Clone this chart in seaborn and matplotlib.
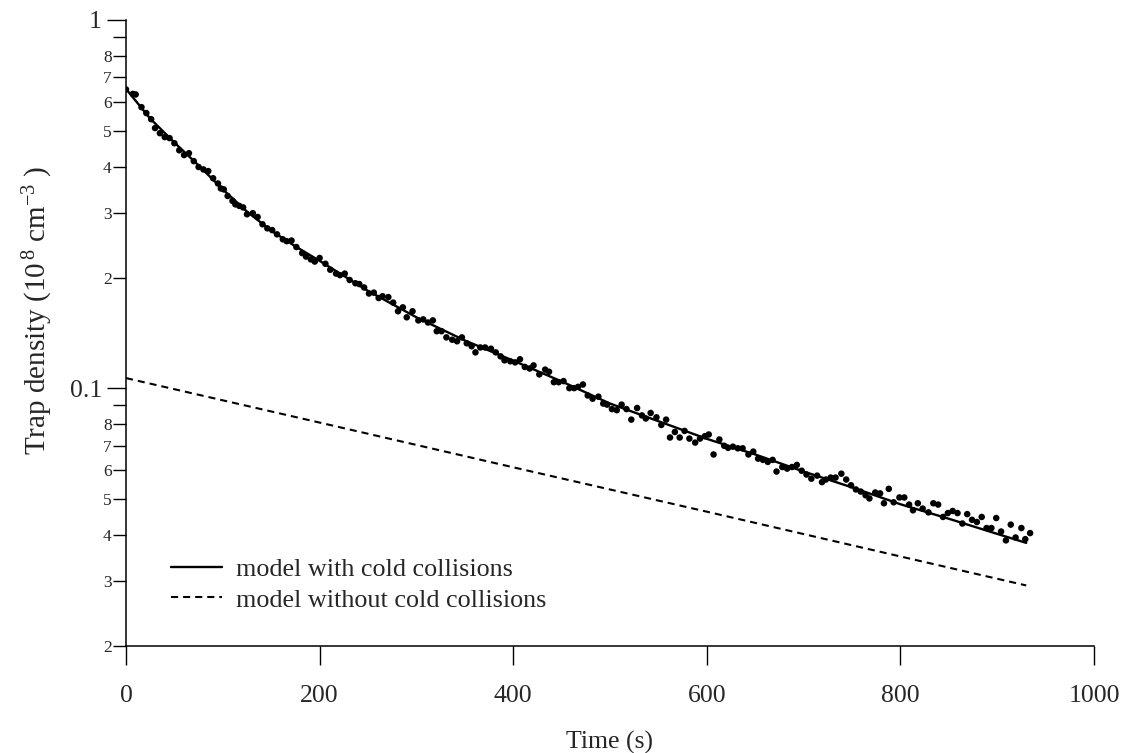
import numpy as np
import pandas as pd
import matplotlib
matplotlib.use("Agg")
import matplotlib.pyplot as plt
import seaborn as sns
from matplotlib.ticker import FixedLocator, FixedFormatter, NullLocator

# measured trap density (10^8 cm^-3) vs time (s)
time_s = [0, 7, 10, 16, 21, 26, 30, 35, 40, 45, 50, 55, 60, 65, 70, 75, 80, 85, 90, 95,
          98, 101, 105, 110, 113, 117, 121, 125, 131, 136, 141, 146, 151, 156, 162, 166,
          171, 176, 182, 186, 191, 195, 200, 206, 211, 217, 221, 226, 231, 237, 241, 246,
          251, 256, 261, 265, 271, 276, 281, 286, 290, 296, 302, 307, 312, 317, 321, 326,
          331, 337, 342, 347, 352, 357, 361, 366, 371, 377, 382, 387, 391, 397, 402, 407,
          412, 417, 421, 427, 433, 437, 442, 447, 452, 458, 463, 467, 472, 477, 482, 488,
          493, 497, 502, 507, 512, 517, 522, 528, 533, 537, 542, 548, 553, 558, 562, 567,
          572, 577, 582, 588, 593, 598, 602, 607, 613, 618, 622, 627, 632, 637, 643, 648,
          653, 658, 663, 668, 672, 678, 683, 688, 693, 698, 703, 708, 714, 719, 723, 728,
          733, 739, 744, 749, 754, 759, 764, 768, 774, 779, 783, 788, 793, 799, 804, 809,
          813, 818, 823, 829, 834, 839, 844, 849, 854, 859, 864, 869, 874, 879, 884, 889,
          894, 899, 904, 909, 914, 919, 925, 929, 934]
density = [0.648, 0.630, 0.628, 0.580, 0.559, 0.538, 0.509, 0.493, 0.481, 0.478, 0.463,
           0.443, 0.430, 0.435, 0.414, 0.399, 0.393, 0.389, 0.372, 0.360, 0.349, 0.347,
           0.333, 0.323, 0.316, 0.313, 0.310, 0.297, 0.299, 0.292, 0.279, 0.272, 0.269,
           0.262, 0.254, 0.251, 0.252, 0.242, 0.233, 0.228, 0.224, 0.221, 0.226, 0.218,
           0.210, 0.205, 0.203, 0.205, 0.197, 0.193, 0.192, 0.188, 0.181, 0.182, 0.176,
           0.178, 0.177, 0.171, 0.162, 0.166, 0.156, 0.162, 0.153, 0.154, 0.151, 0.153,
           0.143, 0.143, 0.1376, 0.1356, 0.1343, 0.1376, 0.1326, 0.1302, 0.1253, 0.1292,
           0.1292, 0.1282, 0.1253, 0.1222, 0.1192, 0.1185, 0.1177, 0.1200, 0.1144, 0.1133,
           0.1155, 0.1092, 0.1125, 0.1110, 0.1040, 0.1040, 0.1047, 0.1002, 0.1002, 0.1010,
           0.1025, 0.0957, 0.0938, 0.0950, 0.0910, 0.0904, 0.0879, 0.0873, 0.0904, 0.0879,
           0.0823, 0.0885, 0.0845, 0.0829, 0.0858, 0.0835, 0.0796, 0.0823, 0.0736, 0.0762,
           0.0736, 0.0767, 0.0731, 0.0713, 0.0731, 0.0742, 0.0750, 0.0662, 0.0727, 0.0699,
           0.0690, 0.0695, 0.0688, 0.0688, 0.0662, 0.0674, 0.0645, 0.0640, 0.0632, 0.0640,
           0.0595, 0.0612, 0.0606, 0.0612, 0.0620, 0.0598, 0.0584, 0.0569, 0.0580, 0.0557,
           0.0566, 0.0573, 0.0573, 0.0587, 0.0566, 0.0546, 0.0532, 0.0525, 0.0513, 0.0503,
           0.0522, 0.0519, 0.0488, 0.0534, 0.0491, 0.0506, 0.0506, 0.0484, 0.0467, 0.0488,
           0.0472, 0.0461, 0.0488, 0.0484, 0.0448, 0.0459, 0.0465, 0.0459, 0.0430, 0.0456,
           0.0440, 0.0434, 0.0448, 0.0418, 0.0418, 0.0445, 0.0409, 0.0387, 0.0427, 0.0394,
           0.0418, 0.0390, 0.0405]

# model with cold collisions
fit_time = [0, 25, 50, 75, 100, 125, 150, 175, 200, 250, 300, 350, 400, 450, 500, 550,
            600, 650, 700, 750, 800, 850, 900, 930]
fit_with = [0.650, 0.540, 0.465, 0.403, 0.347, 0.302, 0.268, 0.243, 0.222, 0.184, 0.156,
            0.135, 0.119, 0.1045, 0.0910, 0.0815, 0.0730, 0.0662, 0.0595, 0.0539, 0.0485,
            0.0443, 0.0403, 0.0381]

# model without cold collisions
nofit_time = [0, 200, 400, 600, 800, 930]
fit_without = [0.1067, 0.0808, 0.0611, 0.0463, 0.0350, 0.0292]

x_ticks = [0, 200, 400, 600, 800, 1000]
y_major = [0.1, 1]
y_major_labels = ["0.1", "1"]
y_minor = [0.02, 0.03, 0.04, 0.05, 0.06, 0.07, 0.08, 0.09,
           0.2, 0.3, 0.4, 0.5, 0.6, 0.7, 0.8, 0.9]
y_minor_labels = ["2", "3", "4", "5", "6", "7", "8", "",
                  "2", "3", "4", "5", "6", "7", "8", ""]

sns.set_style("ticks")
plt.rcParams["font.family"] = ["Liberation Serif", "DejaVu Serif"]
plt.rcParams["mathtext.fontset"] = "custom"
plt.rcParams["mathtext.rm"] = "Liberation Serif"
plt.rcParams["mathtext.it"] = "Liberation Serif:italic"
plt.rcParams["mathtext.bf"] = "Liberation Serif:bold"

fig = plt.figure(figsize=(11.27, 7.53), dpi=100)
ax = fig.add_axes([126 / 1127, 1 - 646 / 753, 968 / 1127, 626 / 753])

sns.lineplot(x=fit_time, y=fit_with, ax=ax, color="black", linewidth=1.7,
             estimator=None, sort=False, label="model with cold collisions")
sns.lineplot(x=nofit_time, y=fit_without, ax=ax, color="black", linewidth=1.5,
             estimator=None, sort=False, label="model without cold collisions")
ax.lines[-1].set_dashes((3.4, 2.4))
sns.scatterplot(x=time_s, y=density, ax=ax, color="black", s=22, edgecolor="none",
                legend=False, zorder=3)

ax.set_yscale("log")
ax.set_xlim(0, 1000)
ax.set_ylim(0.02, 1)
ax.xaxis.set_major_locator(FixedLocator(x_ticks))
ax.xaxis.set_minor_locator(NullLocator())
ax.yaxis.set_major_locator(FixedLocator(y_major))
ax.yaxis.set_major_formatter(FixedFormatter(y_major_labels))
ax.yaxis.set_minor_locator(FixedLocator(y_minor))
ax.yaxis.set_minor_formatter(FixedFormatter(y_minor_labels))

ax.tick_params(axis="y", which="major", length=13.7, width=1.0, labelsize=18.5,
               pad=3.6, direction="out", color="black")
ax.tick_params(axis="y", which="minor", length=9.4, width=1.0, labelsize=12.5,
               pad=0.8, direction="out", color="black")
ax.tick_params(axis="x", which="major", length=13.7, width=1.0, labelsize=18.5,
               pad=14.5, direction="out", color="black")

sns.despine(ax=ax)
for s in ("left", "bottom"):
    ax.spines[s].set_linewidth(1.1)
    ax.spines[s].set_color("black")

ax.set_xlabel("Time (s)", fontsize=18.5)
ax.xaxis.set_label_coords(0.5, -0.136)
ax.set_ylabel(r"Trap density (10$^{\,8}$ cm$^{-3}$ )", fontsize=21)
ax.yaxis.set_label_coords(-0.073, 0.537)

ax.legend(loc="lower left", bbox_to_anchor=(0.0465, 0.055), frameon=False,
          fontsize=18.8, handlelength=1.97, handletextpad=0.5, labelspacing=0.28,
          borderpad=0, borderaxespad=0)

fig.savefig("out.png", dpi=100)
